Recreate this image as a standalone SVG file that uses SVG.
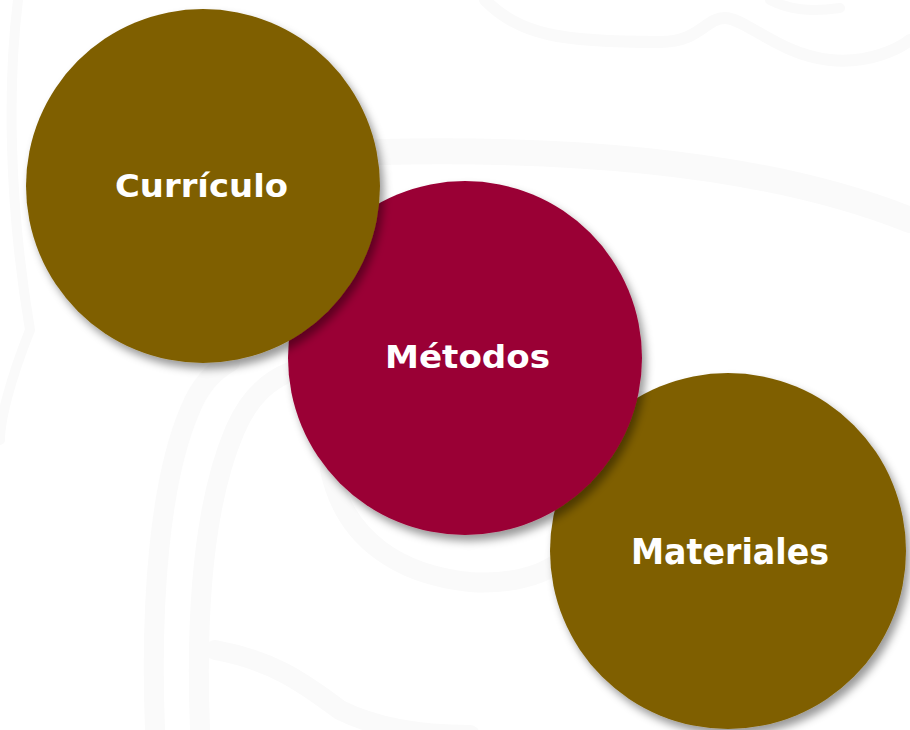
<svg xmlns="http://www.w3.org/2000/svg" width="910" height="730" viewBox="0 0 910 730">
  <defs>
    <filter id="shadow" x="-20%" y="-20%" width="140%" height="140%">
      <feDropShadow dx="4" dy="6" stdDeviation="4" flood-color="#000" flood-opacity="0.4"/>
    </filter>
  </defs>
  <style>
    .bg { fill: none; stroke: #fafafa; stroke-linecap: round; }
    .olive { fill: #7f5f00; }
    .crimson { fill: #9a0036; }
    .label { fill: #ffffff; font-family: "DejaVu Sans", "Open Sans", sans-serif; font-weight: 700; text-anchor: middle; }
  </style>
  <rect width="910" height="730" fill="#ffffff"/>
  <g id="background">
    <path class="bg" stroke-width="26" d="M 380 152 C 560 148 760 160 910 220"/>
    <path class="bg" stroke-width="12" d="M 485 0 C 520 35 560 42 660 42 C 700 42 705 18 725 18 C 745 18 780 55 830 60 C 870 64 900 48 910 40"/>
    <path class="bg" stroke-width="10" d="M 770 0 C 790 10 810 12 840 8"/>
    <path class="bg" stroke-width="10" d="M 18 0 C 8 80 8 200 30 330 C 10 380 0 420 0 440"/>
    <path class="bg" stroke-width="20" d="M 155 730 C 150 600 160 480 190 410 C 200 385 215 370 230 362"/>
    <path class="bg" stroke-width="20" d="M 200 730 C 195 600 205 500 235 430 C 250 395 270 380 290 372"/>
    <path class="bg" stroke-width="20" d="M 215 650 C 270 660 300 680 340 710 C 380 730 430 735 470 735"/>
    <path class="bg" stroke-width="20" d="M 330 470 C 345 540 400 575 470 582 C 510 585 540 575 555 565"/>
    <path class="bg" stroke-width="18" d="M 640 400 C 720 410 780 440 820 470"/>
  </g>
  <g id="connectors"></g>
  <g id="node-materiales">
    <circle class="olive" cx="728" cy="551" r="178" filter="url(#shadow)"/>
    <text class="label" x="730" y="564" font-size="35" textLength="198" lengthAdjust="spacingAndGlyphs">Materiales</text>
  </g>
  <g id="node-metodos">
    <circle class="crimson" cx="465" cy="358" r="177" filter="url(#shadow)"/>
    <text class="label" x="467.5" y="368" font-size="32" textLength="165" lengthAdjust="spacingAndGlyphs">Métodos</text>
  </g>
  <g id="node-curriculo">
    <circle class="olive" cx="203" cy="186" r="177" filter="url(#shadow)"/>
    <text class="label" x="201.5" y="197" font-size="32" textLength="173" lengthAdjust="spacingAndGlyphs">Currículo</text>
  </g>
</svg>
